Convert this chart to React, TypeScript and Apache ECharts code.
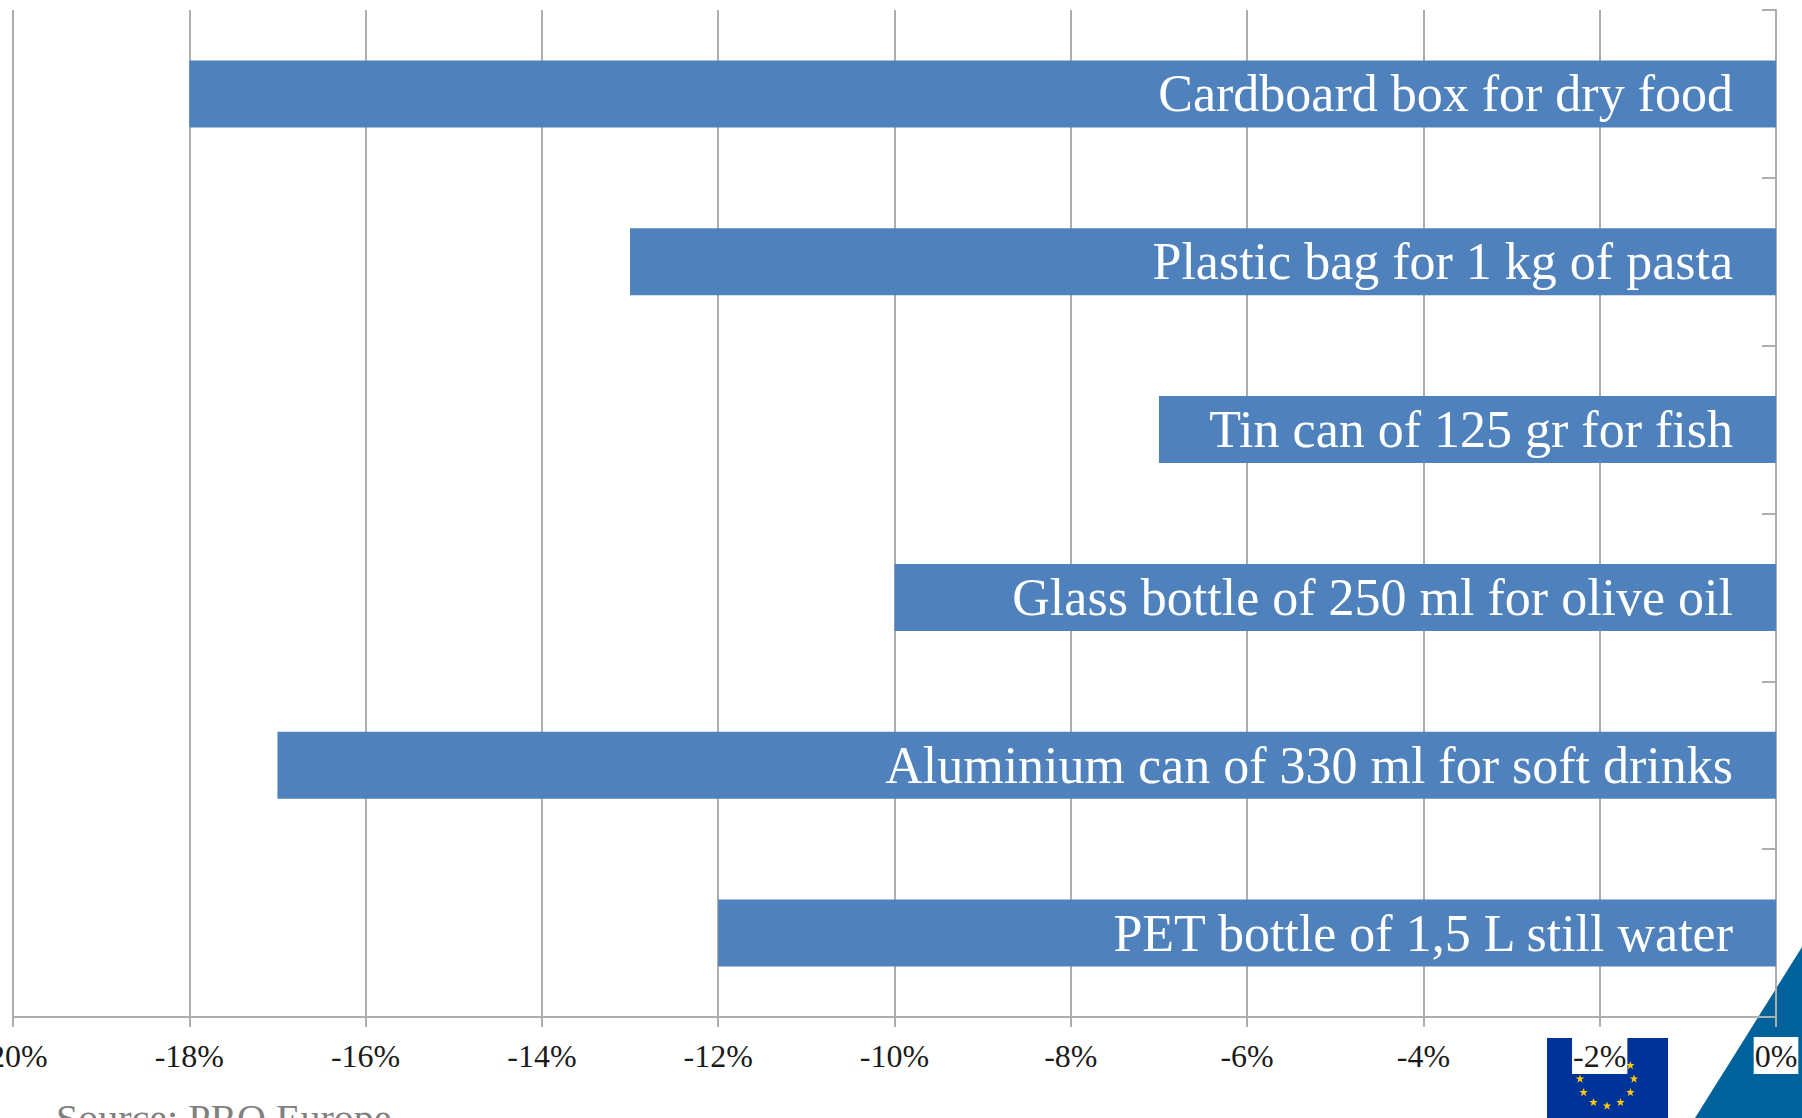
import React, { useEffect, useRef } from "react";
import * as echarts from "echarts";

const packagingTypes = [
  "Cardboard box for dry food",
  "Plastic bag for 1 kg of pasta",
  "Tin can of 125 gr for fish",
  "Glass bottle of 250 ml for olive oil",
  "Aluminium can of 330 ml for soft drinks",
  "PET bottle of 1,5 L still water",
];
const weightChange = [-18, -13, -7, -10, -17, -12];
const sourceNote = "Source: PRO Europe";

const SERIF = "'Liberation Serif', serif";
const AXIS_GREY = "#adadad";

// Five-pointed star outline centred on (cx, cy).
function starPoints(cx: number, cy: number, r: number): number[][] {
  const pts: number[][] = [];
  for (let i = 0; i < 10; i++) {
    const rad = i % 2 === 0 ? r : r * 0.4;
    const a = (Math.PI * i) / 5;
    pts.push([cx + rad * Math.sin(a), cy - rad * Math.cos(a)]);
  }
  return pts;
}

// Ring of twelve stars on the EU flag.
function flagStars() {
  const stars = [];
  for (let h = 0; h < 12; h++) {
    const a = (Math.PI * h) / 6;
    stars.push({
      type: "polygon",
      z: -1,
      shape: { points: starPoints(1607 + 27 * Math.sin(a), 1079 - 27 * Math.cos(a), 4.5) },
      style: { fill: "#ffcc00" },
    });
  }
  return stars;
}

export default function App() {
  const ref = useRef<HTMLDivElement>(null);

  useEffect(() => {
    const chart = echarts.init(ref.current!, null, { renderer: "svg" });
    chart.setOption({
      animation: false,
      backgroundColor: "#ffffff",
      grid: { left: 13, right: 26, top: 10, bottom: 101, containLabel: false, outerBoundsMode: "none" },
      xAxis: {
        type: "value",
        min: -20,
        max: 0,
        interval: 2,
        axisLine: { show: true, lineStyle: { color: AXIS_GREY, width: 2 } },
        axisTick: { show: true, length: 10, lineStyle: { color: AXIS_GREY, width: 2 } },
        splitLine: { show: true, lineStyle: { color: AXIS_GREY, width: 2 } },
        axisLabel: {
          formatter: "{value}%",
          fontFamily: SERIF,
          fontSize: 32,
          color: "#1a1a1a",
          margin: 20,
          backgroundColor: "#ffffff",
          padding: [3, 1, 2, 1],
          hideOverlap: false,
          showMinLabel: true,
          showMaxLabel: true,
        },
      },
      yAxis: {
        type: "category",
        position: "right",
        inverse: true,
        data: packagingTypes,
        axisLine: { show: true, onZero: false, lineStyle: { color: AXIS_GREY, width: 2 } },
        axisTick: { show: true, inside: true, length: 14, lineStyle: { color: AXIS_GREY, width: 2 } },
        axisLabel: { show: false },
        splitLine: { show: false },
      },
      series: [
        {
          type: "bar",
          data: weightChange,
          barWidth: 67,
          itemStyle: { color: "#4f81bd" },
          label: {
            show: true,
            position: "insideRight",
            distance: 43,
            formatter: "{b}",
            fontFamily: SERIF,
            fontSize: 52,
            color: "#ffffff",
          },
        },
      ],
      graphic: [
        {
          type: "polygon",
          z: -1,
          shape: { points: [[1695, 1118], [1802, 947], [1802, 1118]] },
          style: { fill: "#00629b" },
        },
        {
          type: "rect",
          z: -1,
          shape: { x: 1547, y: 1038, width: 121, height: 80 },
          style: { fill: "#003399" },
        },
        ...flagStars(),
        {
          type: "text",
          z: -1,
          x: 56,
          y: 1098,
          style: { text: sourceNote, font: `40px ${SERIF}`, fill: "#808080" },
        },
      ],
    });
    return () => chart.dispose();
  }, []);

  return <div ref={ref} style={{ position: "fixed", left: 0, top: 0, width: 1802, height: 1118 }} />;
}
